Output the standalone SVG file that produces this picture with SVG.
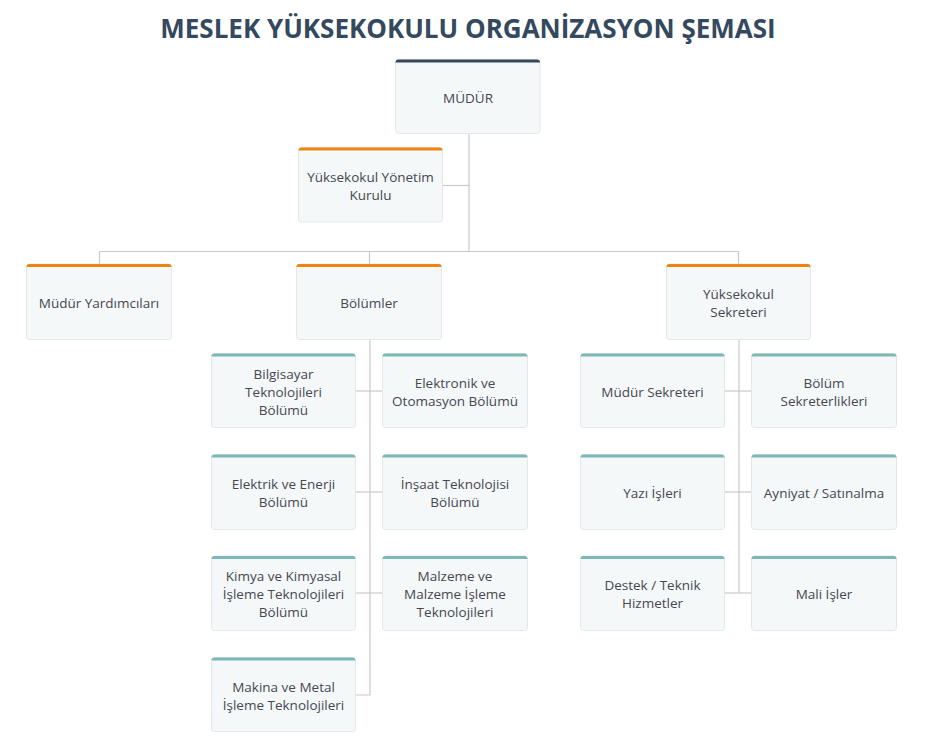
<svg xmlns="http://www.w3.org/2000/svg" width="929" height="753" viewBox="0 0 929 753">
<style>
.bg{fill:#ffffff}
.box{fill:#f4f8f8;stroke:#e2e8e8;stroke-width:1}
.bar-d{fill:#34495e}
.bar-o{fill:#ef8410}
.bar-t{fill:#7db8b6}
.lbl{font-family:"Open Sans","Liberation Sans",sans-serif;font-size:13.5px;fill:#474752;text-anchor:middle}
.title{font-family:"Open Sans","Liberation Sans",sans-serif;font-size:26px;font-weight:bold;fill:#34495e;text-anchor:middle}
.ln{stroke:#c9c9c9;stroke-width:1.2;fill:none}
</style>
<rect class="bg" x="0" y="0" width="929" height="753"/>
<text class="title" x="468" y="38">MESLEK YÜKSEKOKULU ORGANİZASYON ŞEMASI</text>
<g id="connectors">
<path class="ln" d="M469,133 V251.5"/>
<path class="ln" d="M442,185.5 H469"/>
<path class="ln" d="M99.5,264 V251.5 H738.5 V264"/>
<path class="ln" d="M369.5,251.5 V264"/>
<path class="ln" d="M370,339 V695 H355"/>
<path class="ln" d="M355,391 H383"/>
<path class="ln" d="M355,492 H383"/>
<path class="ln" d="M355,593 H383"/>
<path class="ln" d="M739,339 V593"/>
<path class="ln" d="M724,391 H752"/>
<path class="ln" d="M724,492 H752"/>
<path class="ln" d="M724,593 H752"/>
</g>
<g id="mudur">
<rect class="box" x="395.5" y="59.5" width="144.5" height="74" rx="3"/>
<path class="bar-d" d="M395.5,62.5 Q395.5,59.5 398.5,59.5 H537 Q540,59.5 540,62.5 Z"/>
<text class="lbl" x="468" y="103">MÜDÜR</text>
</g>
<g id="yonetim">
<rect class="box" x="298.5" y="147.5" width="144" height="74.5" rx="3"/>
<path class="bar-o" d="M298.5,150.5 Q298.5,147.5 301.5,147.5 H439.5 Q442.5,147.5 442.5,150.5 Z"/>
<text class="lbl" x="370.5" y="182">Yüksekokul Yönetim</text>
<text class="lbl" x="370.5" y="200">Kurulu</text>
</g>
<g id="yardimcilar">
<rect class="box" x="26.5" y="264" width="145" height="75.5" rx="3"/>
<path class="bar-o" d="M26.5,267 Q26.5,264 29.5,264 H168.5 Q171.5,264 171.5,267 Z"/>
<text class="lbl" x="99" y="308">Müdür Yardımcıları</text>
</g>
<g id="bolumler">
<rect class="box" x="296.5" y="264" width="145" height="75.5" rx="3"/>
<path class="bar-o" d="M296.5,267 Q296.5,264 299.5,264 H438.5 Q441.5,264 441.5,267 Z"/>
<text class="lbl" x="369" y="308">Bölümler</text>
</g>
<g id="sekreter">
<rect class="box" x="666.5" y="264" width="144" height="75.5" rx="3"/>
<path class="bar-o" d="M666.5,267 Q666.5,264 669.5,264 H807.5 Q810.5,264 810.5,267 Z"/>
<text class="lbl" x="738.5" y="299">Yüksekokul</text>
<text class="lbl" x="738.5" y="317">Sekreteri</text>
</g>
<g id="bilgisayar">
<rect class="box" x="211.5" y="353.5" width="144" height="74" rx="3"/>
<path class="bar-t" d="M211.5,356.5 Q211.5,353.5 214.5,353.5 H352.5 Q355.5,353.5 355.5,356.5 Z"/>
<text class="lbl" x="283.5" y="379">Bilgisayar</text>
<text class="lbl" x="283.5" y="397">Teknolojileri</text>
<text class="lbl" x="283.5" y="415">Bölümü</text>
</g>
<g id="elektronik">
<rect class="box" x="382.5" y="353.5" width="145" height="74" rx="3"/>
<path class="bar-t" d="M382.5,356.5 Q382.5,353.5 385.5,353.5 H524.5 Q527.5,353.5 527.5,356.5 Z"/>
<text class="lbl" x="455" y="388">Elektronik ve</text>
<text class="lbl" x="455" y="406">Otomasyon Bölümü</text>
</g>
<g id="elektrik">
<rect class="box" x="211.5" y="454.5" width="144" height="75" rx="3"/>
<path class="bar-t" d="M211.5,457.5 Q211.5,454.5 214.5,454.5 H352.5 Q355.5,454.5 355.5,457.5 Z"/>
<text class="lbl" x="283.5" y="489">Elektrik ve Enerji</text>
<text class="lbl" x="283.5" y="507">Bölümü</text>
</g>
<g id="insaat">
<rect class="box" x="382.5" y="454.5" width="145" height="75" rx="3"/>
<path class="bar-t" d="M382.5,457.5 Q382.5,454.5 385.5,454.5 H524.5 Q527.5,454.5 527.5,457.5 Z"/>
<text class="lbl" x="455" y="489">İnşaat Teknolojisi</text>
<text class="lbl" x="455" y="507">Bölümü</text>
</g>
<g id="kimya">
<rect class="box" x="211.5" y="556" width="144" height="74.5" rx="3"/>
<path class="bar-t" d="M211.5,559 Q211.5,556 214.5,556 H352.5 Q355.5,556 355.5,559 Z"/>
<text class="lbl" x="283.5" y="581">Kimya ve Kimyasal</text>
<text class="lbl" x="283.5" y="599">İşleme Teknolojileri</text>
<text class="lbl" x="283.5" y="617">Bölümü</text>
</g>
<g id="malzeme">
<rect class="box" x="382.5" y="556" width="145" height="74.5" rx="3"/>
<path class="bar-t" d="M382.5,559 Q382.5,556 385.5,556 H524.5 Q527.5,556 527.5,559 Z"/>
<text class="lbl" x="455" y="581">Malzeme ve</text>
<text class="lbl" x="455" y="599">Malzeme İşleme</text>
<text class="lbl" x="455" y="617">Teknolojileri</text>
</g>
<g id="makina">
<rect class="box" x="211.5" y="657.5" width="144" height="74" rx="3"/>
<path class="bar-t" d="M211.5,660.5 Q211.5,657.5 214.5,657.5 H352.5 Q355.5,657.5 355.5,660.5 Z"/>
<text class="lbl" x="283.5" y="692">Makina ve Metal</text>
<text class="lbl" x="283.5" y="710">İşleme Teknolojileri</text>
</g>
<g id="mudursekreteri">
<rect class="box" x="580.5" y="353.5" width="144" height="74" rx="3"/>
<path class="bar-t" d="M580.5,356.5 Q580.5,353.5 583.5,353.5 H721.5 Q724.5,353.5 724.5,356.5 Z"/>
<text class="lbl" x="652.5" y="397">Müdür Sekreteri</text>
</g>
<g id="bolumsekreterlikleri">
<rect class="box" x="751.5" y="353.5" width="145" height="74" rx="3"/>
<path class="bar-t" d="M751.5,356.5 Q751.5,353.5 754.5,353.5 H893.5 Q896.5,353.5 896.5,356.5 Z"/>
<text class="lbl" x="824" y="388">Bölüm</text>
<text class="lbl" x="824" y="406">Sekreterlikleri</text>
</g>
<g id="yazi">
<rect class="box" x="580.5" y="454.5" width="144" height="75" rx="3"/>
<path class="bar-t" d="M580.5,457.5 Q580.5,454.5 583.5,454.5 H721.5 Q724.5,454.5 724.5,457.5 Z"/>
<text class="lbl" x="652.5" y="498">Yazı İşleri</text>
</g>
<g id="ayniyat">
<rect class="box" x="751.5" y="454.5" width="145" height="75" rx="3"/>
<path class="bar-t" d="M751.5,457.5 Q751.5,454.5 754.5,454.5 H893.5 Q896.5,454.5 896.5,457.5 Z"/>
<text class="lbl" x="824" y="498">Ayniyat / Satınalma</text>
</g>
<g id="destek">
<rect class="box" x="580.5" y="556" width="144" height="74.5" rx="3"/>
<path class="bar-t" d="M580.5,559 Q580.5,556 583.5,556 H721.5 Q724.5,556 724.5,559 Z"/>
<text class="lbl" x="652.5" y="590">Destek / Teknik</text>
<text class="lbl" x="652.5" y="608">Hizmetler</text>
</g>
<g id="mali">
<rect class="box" x="751.5" y="556" width="145" height="74.5" rx="3"/>
<path class="bar-t" d="M751.5,559 Q751.5,556 754.5,556 H893.5 Q896.5,556 896.5,559 Z"/>
<text class="lbl" x="824" y="599">Mali İşler</text>
</g>
</svg>
